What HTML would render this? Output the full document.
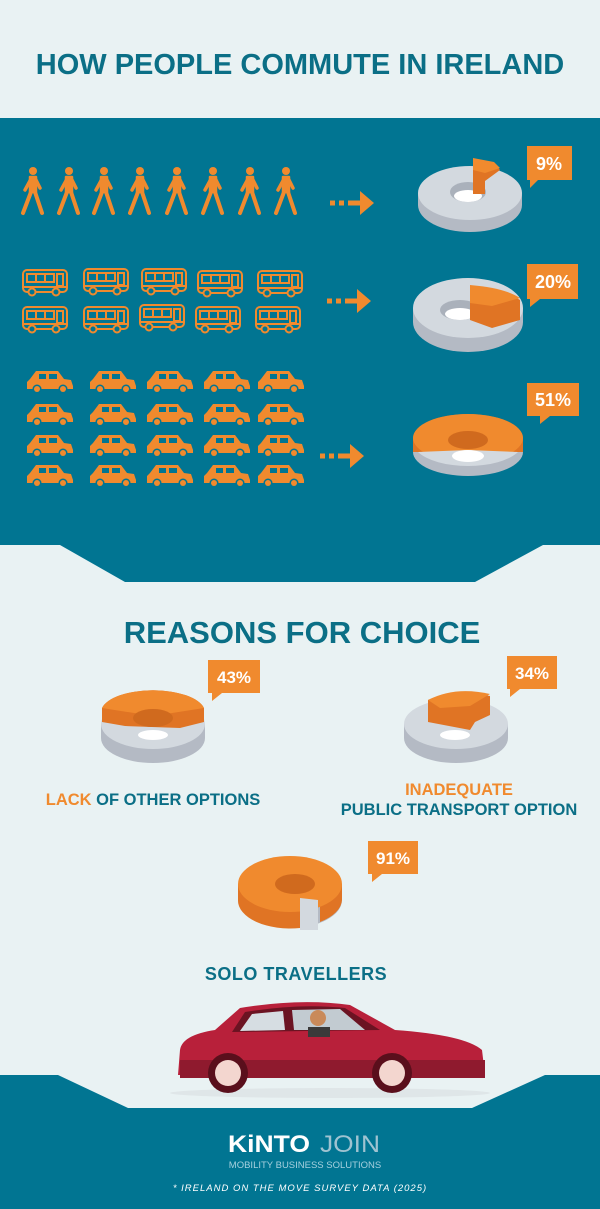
<!DOCTYPE html>
<html><head><meta charset="utf-8"><style>
html,body{margin:0;padding:0;background:#e9f2f3;}
svg{display:block;font-family:"Liberation Sans",sans-serif;}
</style></head><body>
<svg width="600" height="1209" viewBox="0 0 600 1209" xmlns="http://www.w3.org/2000/svg">
<defs>
<g id="walk" fill="#f08a2e" stroke="#f08a2e" stroke-linecap="round" stroke-linejoin="round">
 <circle cx="13" cy="4" r="4" stroke="none"/>
 <path d="M10 10 L16 10 L16 25 L10 25 Z" stroke-width="2.5"/>
 <path d="M11 12 L5 23" stroke-width="3.5" fill="none"/>
 <path d="M16 13 L20 21" stroke-width="3.5" fill="none"/>
 <path d="M11 25 L3 46" stroke-width="4" fill="none"/>
 <path d="M15 25 L22 46" stroke-width="4" fill="none"/>
</g>
<g id="bus" fill="none" stroke="#f08a2e" stroke-width="2">
 <rect x="1" y="1" width="44" height="22" rx="4"/>
 <rect x="5" y="5" width="9" height="8"/><rect x="14" y="5" width="9" height="8"/><rect x="23" y="5" width="9" height="8"/><rect x="35" y="5" width="6" height="12"/>
 <line x1="2" y1="18" x2="44" y2="18"/>
 <circle cx="10" cy="23" r="3.5" fill="#017592"/><circle cx="34" cy="23" r="3.5" fill="#017592"/>
</g>
<g id="car" fill="#f08a2e">
 <path d="M9 2 L31 2 L37 10 L44 11 L46 17 L46 20 L0 20 L0 13 L3 10 Z"/>
 <rect x="12" y="5" width="7" height="5" fill="#017592"/><rect x="22" y="5" width="8" height="5" fill="#017592"/>
 <circle cx="10" cy="20" r="4.5" fill="#017592"/><circle cx="10" cy="20" r="3"/>
 <circle cx="36" cy="20" r="4.5" fill="#017592"/><circle cx="36" cy="20" r="3"/>
</g>
<g id="arrow" fill="#f08a2e">
 <rect x="0" y="-2.5" width="5" height="5"/><rect x="9" y="-2.5" width="5" height="5"/><rect x="18" y="-2.5" width="14" height="5"/>
 <path d="M30 -12 L44 0 L30 12 Z"/>
</g>
</defs>

<rect width="600" height="1209" fill="#e9f2f3"/>
<text x="300" y="74" text-anchor="middle" font-size="29" font-weight="bold" fill="#0b6f86">HOW PEOPLE COMMUTE IN IRELAND</text>

<polygon points="0,118 600,118 600,545 543,545 475,582 125,582 60,545 0,545" fill="#017592"/>

<g>
<use href="#walk" x="20" y="167"/><use href="#walk" x="56" y="167"/><use href="#walk" x="91" y="167"/><use href="#walk" x="127" y="167"/><use href="#walk" x="164" y="167"/><use href="#walk" x="200" y="167"/><use href="#walk" x="237" y="167"/><use href="#walk" x="273" y="167"/>
</g>
<use href="#arrow" x="330" y="203"/>
<g>
<use href="#bus" x="22" y="269"/><use href="#bus" x="83" y="268"/><use href="#bus" x="141" y="268"/><use href="#bus" x="197" y="270"/><use href="#bus" x="257" y="270"/>
<use href="#bus" x="22" y="306"/><use href="#bus" x="83" y="306"/><use href="#bus" x="139" y="304"/><use href="#bus" x="195" y="306"/><use href="#bus" x="255" y="306"/>
</g>
<use href="#arrow" x="327" y="301"/>
<g>
<use href="#car" x="27" y="369"/><use href="#car" x="90" y="369"/><use href="#car" x="147" y="369"/><use href="#car" x="204" y="369"/><use href="#car" x="258" y="369"/>
<use href="#car" x="27" y="402"/><use href="#car" x="90" y="402"/><use href="#car" x="147" y="402"/><use href="#car" x="204" y="402"/><use href="#car" x="258" y="402"/>
<use href="#car" x="27" y="433"/><use href="#car" x="90" y="433"/><use href="#car" x="147" y="433"/><use href="#car" x="204" y="433"/><use href="#car" x="258" y="433"/>
<use href="#car" x="27" y="463"/><use href="#car" x="90" y="463"/><use href="#car" x="147" y="463"/><use href="#car" x="204" y="463"/><use href="#car" x="258" y="463"/>
</g>
<use href="#arrow" x="320" y="456"/>

<g>
<ellipse cx="470" cy="205" rx="52" ry="27" fill="#b4bac4"/>
<rect x="418" y="193" width="104" height="12" fill="#b4bac4"/>
<ellipse cx="470" cy="193" rx="52" ry="27" fill="#d3d9df"/>
<ellipse cx="468" cy="192" rx="18" ry="10" fill="#aab1bb"/>
<ellipse cx="468" cy="196" rx="14" ry="6" fill="#fff"/>
<path d="M473 160 L494 163 L500 170 L485 181 L485 194 L473 194 Z" fill="#e07424"/>
<path d="M473 158 L494 162 L500 168 L485 173 L473 170 Z" fill="#f08a2e"/>
</g>
<g>
<ellipse cx="468" cy="322" rx="55" ry="30" fill="#b4bac4"/>
<rect x="413" y="308" width="110" height="14" fill="#b4bac4"/>
<ellipse cx="468" cy="308" rx="55" ry="30" fill="#d3d9df"/>
<ellipse cx="460" cy="310" rx="20" ry="10" fill="#aab1bb"/>
<ellipse cx="460" cy="314" rx="15" ry="6" fill="#fff"/>
<path d="M470 287 Q505 290 520 300 L520 320 L492 328 L470 320 Z" fill="#e07424"/>
<path d="M470 285 Q505 288 520 298 L492 306 L470 303 Z" fill="#f08a2e"/>
</g>
<g>
<ellipse cx="468" cy="452" rx="55" ry="24" fill="#b4bac4"/>
<rect x="413" y="438" width="110" height="14" fill="#b4bac4"/>
<path d="M413 438 A55 24 0 0 1 523 438 L523 452 L413 452 Z" fill="#e07424"/>
<ellipse cx="468" cy="438" rx="55" ry="24" fill="#f08a2e"/>
<path d="M468 450 L418 452 A55 24 0 0 0 518 452 Z" fill="#d3d9df"/>
<ellipse cx="468" cy="440" rx="20" ry="9" fill="#d06a1e"/>
<ellipse cx="468" cy="456" rx="16" ry="6" fill="#fff"/>
</g>
<g fill="#f08a2e">
<rect x="527" y="146" width="45" height="34"/><path d="M530 180 L538 180 L530 188 Z"/>
<rect x="527" y="264" width="51" height="35"/><path d="M530 299 L540 299 L530 307 Z"/>
<rect x="527" y="383" width="52" height="33"/><path d="M540 416 L550 416 L540 424 Z"/>
</g>
<g fill="#fff" font-weight="bold" font-size="18" text-anchor="middle">
<text x="549" y="170">9%</text><text x="553" y="288">20%</text><text x="553" y="406">51%</text>
</g>

<text x="302" y="643" text-anchor="middle" font-size="31" font-weight="bold" fill="#0b6f86">REASONS FOR CHOICE</text>

<g>
<ellipse cx="153" cy="738" rx="52" ry="25" fill="#b4bac4"/>
<rect x="101" y="724" width="104" height="14" fill="#b4bac4"/>
<ellipse cx="153" cy="724" rx="52" ry="25" fill="#d3d9df"/>
<path d="M102 722 L102 708 A52 22 0 0 1 204 708 L204 722 L180 728 L125 726 Z" fill="#e07424"/>
<path d="M102 708 A52 22 0 0 1 204 708 L153 716 Z" fill="#f08a2e"/>
<ellipse cx="153" cy="718" rx="20" ry="9" fill="#d06a1e"/>
<ellipse cx="153" cy="735" rx="15" ry="5" fill="#fff"/>
</g>
<g>
<ellipse cx="456" cy="738" rx="52" ry="25" fill="#b4bac4"/>
<rect x="404" y="724" width="104" height="14" fill="#b4bac4"/>
<ellipse cx="456" cy="724" rx="52" ry="25" fill="#d3d9df"/>
<path d="M428 700 Q455 688 490 696 L490 715 L475 722 L470 730 L428 722 Z" fill="#e07424"/>
<path d="M428 700 Q455 686 490 694 L470 706 L440 708 Z" fill="#f08a2e"/>
<ellipse cx="455" cy="735" rx="15" ry="5" fill="#fff"/>
</g>
<g>
<ellipse cx="290" cy="900" rx="52" ry="28" fill="#b4bac4"/>
<rect x="238" y="884" width="104" height="16" fill="#b4bac4"/>
<path d="M238 884 L238 900 A52 28 0 0 0 300 928 L300 884 Z" fill="#e07424"/>
<path d="M342 884 L342 900 A52 28 0 0 1 320 922 L320 884 Z" fill="#e07424"/>
<ellipse cx="290" cy="884" rx="52" ry="28" fill="#f08a2e"/>
<ellipse cx="295" cy="884" rx="20" ry="10" fill="#d06a1e"/>
<path d="M300 898 L318 900 L318 930 L300 930 Z" fill="#d3d9df"/>
</g>
<g fill="#f08a2e">
<rect x="208" y="660" width="52" height="33"/><path d="M212 693 L222 693 L212 701 Z"/>
<rect x="507" y="656" width="50" height="33"/><path d="M510 689 L520 689 L510 697 Z"/>
<rect x="368" y="841" width="50" height="33"/><path d="M372 874 L382 874 L372 882 Z"/>
</g>
<g fill="#fff" font-weight="bold" font-size="17" text-anchor="middle">
<text x="234" y="683">43%</text><text x="532" y="679">34%</text><text x="393" y="864">91%</text>
</g>
<g font-weight="bold" font-size="16.5" text-anchor="middle">
<text x="153" y="805"><tspan fill="#f08a2e">LACK</tspan><tspan fill="#0b6f86"> OF OTHER OPTIONS</tspan></text>
<text x="459" y="795" fill="#f08a2e">INADEQUATE</text>
<text x="459" y="815" fill="#0b6f86">PUBLIC TRANSPORT OPTION</text>
<text x="296" y="980" fill="#0b6f86" font-size="18" letter-spacing="0.5">SOLO TRAVELLERS</text>
</g>

<polygon points="0,1075 58,1075 128,1108 472,1108 545,1075 600,1075 600,1209 0,1209" fill="#017592"/>

<ellipse cx="330" cy="1093" rx="160" ry="5" fill="#dfe6e8"/>
<path d="M180 1050 Q182 1035 215 1030 L240 1008 Q300 998 350 1005 L395 1030 Q465 1035 482 1050 L485 1075 L178 1075 Z" fill="#b8203a"/>
<path d="M245 1012 Q300 1003 345 1008 L380 1030 L232 1032 Z" fill="#6b1322"/>
<path d="M252 1014 L283 1011 L285 1030 L240 1031 Z" fill="#d6dde2"/>
<path d="M292 1010 L340 1009 L365 1030 L294 1030 Z" fill="#c2cbd1"/>
<circle cx="318" cy="1018" r="8" fill="#c98a5a"/>
<rect x="308" y="1027" width="22" height="10" fill="#3a3a3a"/>
<path d="M180 1060 L485 1060 L485 1078 L180 1078 Z" fill="#8f1a2e"/>
<circle cx="228" cy="1073" r="20" fill="#5a0f1c"/><circle cx="228" cy="1073" r="13" fill="#f3d6cf"/>
<circle cx="392" cy="1073" r="20" fill="#5a0f1c"/><circle cx="392" cy="1073" r="13" fill="#f3d6cf"/>

<text x="228" y="1152" font-size="24" font-weight="bold" fill="#fff" textLength="82" lengthAdjust="spacingAndGlyphs">KiNTO</text>
<text x="320" y="1152" font-size="24" fill="#9fc3d1" textLength="60" lengthAdjust="spacingAndGlyphs">JOIN</text>
<text x="305" y="1168" text-anchor="middle" font-size="9.5" fill="#a6d0de">MOBILITY BUSINESS SOLUTIONS</text>
<text x="300" y="1191" text-anchor="middle" font-size="9.5" font-style="italic" fill="#fff" letter-spacing="1">* IRELAND ON THE MOVE SURVEY DATA (2025)</text>
</svg>
</body></html>
